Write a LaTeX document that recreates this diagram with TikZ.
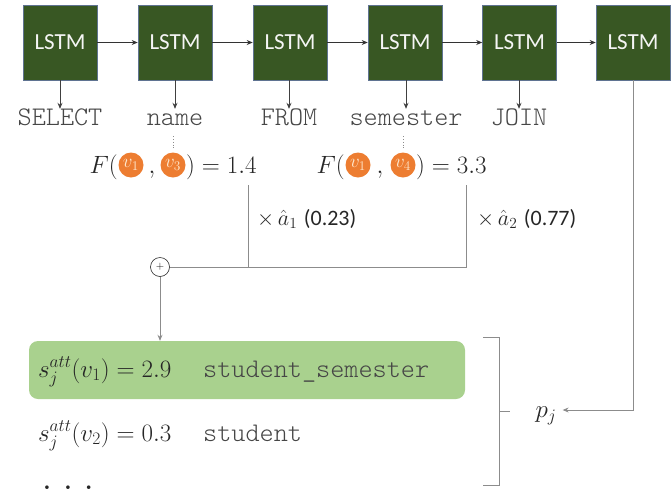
\RequirePackage{fix-cm}
\documentclass[tikz,border=0pt]{standalone}
\usepackage{fontspec}
\newfontfamily\lstmfont{Carlito}
\newfontfamily\monofont{Latin Modern Mono Light}
\usetikzlibrary{arrows.meta}
\definecolor{lstmgreen}{RGB}{56,87,35}
\definecolor{lstmedge}{RGB}{95,115,145}
\definecolor{vorange}{RGB}{237,125,49}
\definecolor{vtext}{RGB}{255,232,205}
\definecolor{lightgreen}{RGB}{169,209,142}
\definecolor{linegray}{RGB}{140,140,140}
\definecolor{monogray}{RGB}{70,70,70}
\definecolor{mathgray}{RGB}{38,38,38}
\begin{document}
\begin{tikzpicture}[x=1pt,y=-1pt,
  lstmbox/.style={draw=lstmedge, line width=0.6pt, fill=lstmgreen, minimum width=74pt, minimum height=75pt, inner sep=0pt, text=white!92!gray, font=\lstmfont\fontsize{23}{27}\selectfont},
  word/.style={font=\monofont\fontsize{26.9}{30}\selectfont, text=monogray, inner sep=0pt, text height=16pt, text depth=5pt, anchor=base},
  vcirc/.style={circle, fill=vorange, minimum size=25pt, inner sep=0pt, text=vtext, font=\fontsize{19}{22}\selectfont},
  mathtxt/.style={inner sep=0pt, font=\fontsize{25}{29}\selectfont, text=mathgray},
  labtxt/.style={inner sep=0pt, font=\fontsize{22}{26}\selectfont, text=mathgray},
  conn/.style={draw=linegray, line width=0.9pt},
  arr/.style={-{Stealth[length=6pt,width=5pt]}},
  plusnode/.style={circle, draw=mathgray, line width=0.6pt, minimum size=19pt, inner sep=0pt, font=\fontsize{11}{12}\selectfont},
  gboxstyle/.style={fill=lightgreen, rounded corners=9pt, minimum width=436pt, minimum height=58pt, inner sep=0pt}
]
\useasboundingbox (0,0) rectangle (671,493);
% LSTM row
\node[lstmbox] (l1) at (60,42.5) {LSTM};
\node[lstmbox] (l2) at (175,42.5) {LSTM};
\node[lstmbox] (l3) at (290,42.5) {LSTM};
\node[lstmbox] (l4) at (405,42.5) {LSTM};
\node[lstmbox] (l5) at (519.5,42.5) {LSTM};
\node[lstmbox] (l6) at (633,42.5) {LSTM};
\foreach \a/\b in {l1/l2,l2/l3,l3/l4,l4/l5,l5/l6}
  \draw[arr, line width=0.8pt, draw=black!80] (\a.east) -- (\b.west);
% words
\node[word] (w1) at (60,125) {SELECT};
\node[word] (w2) at (175,125) {name};
\node[word] (w3) at (289,125) {FROM};
\node[word] (w4) at (406,125) {semester};
\node[word] (w5) at (519,125) {JOIN};
\foreach \i in {1,...,5}
  \draw[arr, line width=0.8pt, draw=black!75] (l\i.south -| w\i.north) -- (w\i.north);
% F expressions
\node[mathtxt, anchor=base east] (fa) at (118,173) {$F($};
\node[vcirc] (c11) at (131,165) {$v_1$};
\node[mathtxt, anchor=base] (ka) at (152,173) {$,$};
\node[vcirc] (c13) at (173,165) {$v_3$};
\node[mathtxt, anchor=base west] (ea) at (186,173) {$) = 1.4$};
\node[mathtxt, anchor=base east] (fb) at (345,173) {$F($};
\node[vcirc] (c21) at (358,165) {$v_1$};
\node[mathtxt, anchor=base] (kb) at (380,173) {$,$};
\node[vcirc] (c24) at (403,165) {$v_4$};
\node[mathtxt, anchor=base west] (eb) at (416,173) {$) = 3.3$};
\draw[dotted, draw=linegray, line width=0.8pt] ([yshift=-6pt]c13.north |- w2.south) -- ([yshift=4pt]c13.north);
\draw[dotted, draw=linegray, line width=0.8pt] ([yshift=-6pt]c24.north |- w4.south) -- ([yshift=4pt]c24.north);
% weights
\node[labtxt, anchor=base west] (la) at (257,225) {$\times\,\hat{a}_1$ {\lstmfont (0.23)}};
\node[labtxt, anchor=base west] (lb) at (477,225) {$\times\,\hat{a}_2$ {\lstmfont (0.77)}};
\coordinate (t1) at (248,185);
\coordinate (t2) at (466,185);
\node[plusnode] (plus) at (160,267) {+};
\draw[conn] (t1) |- (plus.east);
\draw[conn] (t2) |- (plus.east);
% green box
\node[gboxstyle] (gbox) at (247,370) {};
\draw[conn, arr] (plus.south) -- (gbox.north -| plus);
\node[mathtxt, anchor=base west] (s1) at (38,377) {$s_j^{att}(v_1) = 2.9$};
\node[word, anchor=base west] (r1) at (203,377) {student\_semester};
\node[mathtxt, anchor=base west] (s2) at (38,441) {$s_j^{att}(v_2) = 0.3$};
\node[word, anchor=base west] (r2) at (203,441) {student};
\node[mathtxt, anchor=base west] (dots) at (43,489) {\bfseries .\hspace{13pt}.\hspace{13pt}.};
% bracket and p_j
\draw[conn] (483,337) -- (499,337) -- (499,485) -- (483,485);
\draw[conn] (499,411) -- (510,411);
\node[mathtxt, inner xsep=6pt] (pj) at (546,416) {$p_j$};
\draw[conn, arr] (l6.south) |- ([yshift=6pt]pj.east);
\end{tikzpicture}
\end{document}
